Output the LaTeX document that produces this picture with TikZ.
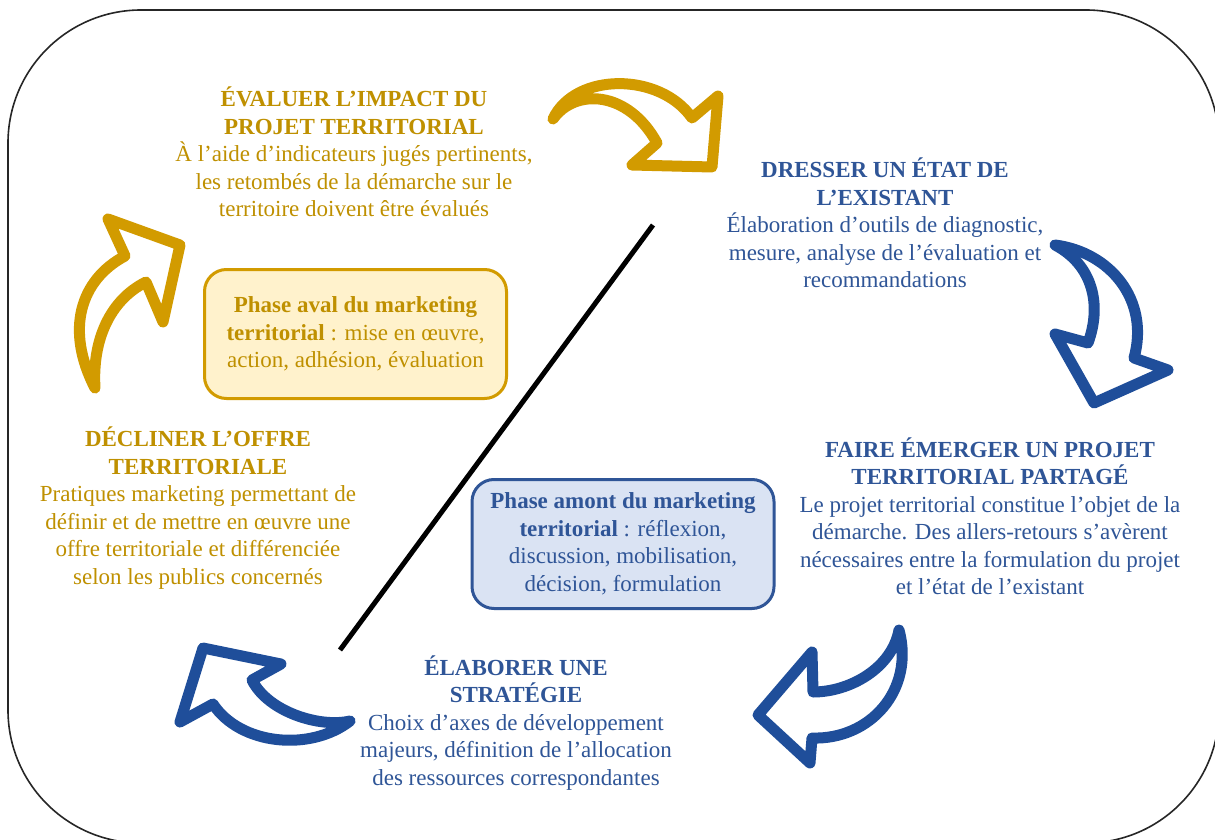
\documentclass[tikz,border=0pt]{standalone}
\usepackage{fontspec}
\setmainfont{Liberation Serif}
\definecolor{mgold}{RGB}{210,155,0}
\definecolor{mgoldtext}{RGB}{191,144,0}
\definecolor{mgoldfill}{RGB}{255,242,204}
\definecolor{mblue}{RGB}{31,78,154}
\definecolor{mbluetext}{RGB}{47,85,151}
\definecolor{mbluefill}{RGB}{218,227,243}
\begin{document}
\begin{tikzpicture}[x=0.5pt,y=-0.5pt,
  txt/.style={align=center, inner sep=0pt, font=\fontsize{11.5pt}{13.75pt}\selectfont},
  goldtxt/.style={txt, text=mgoldtext},
  bluetxt/.style={txt, text=mbluetext},
  goldarrow/.style={draw=mgold, fill=white, line width=5.5pt, line join=round},
  bluearrow/.style={draw=mblue, fill=white, line width=5.5pt, line join=round},
  phasebox/.style={txt, rounded corners=11pt, line width=1.5pt, minimum width=151pt, minimum height=64.5pt},
  goldbox/.style={phasebox, draw=mgold, fill=mgoldfill, text=mgoldtext},
  bluebox/.style={phasebox, draw=mbluetext, fill=mbluefill, text=mbluetext},
  frame/.style={draw=black!85, line width=0.8pt, rounded corners=66.5pt},
  divider/.style={draw=black, line width=2.5pt}
]
\useasboundingbox (0,0) rectangle (1215,840);
\fill[white] (0,0) rectangle (1215,840);
% outer frame
\draw[frame] (8,10) rectangle (1219,843);

% diagonal divider
\coordinate (dA) at (340,650);
\coordinate (dB) at (653,225);
\draw[divider] (dA) -- (dB);

% arrow 1 (gold, top)
\draw[goldarrow] (553,119) .. controls (575,72) and (660,72) .. (692,118)
  -- (718,96) -- (712,167) -- (632,165) -- (657,143)
  .. controls (628,90) and (575,88) .. (553,119) -- cycle;
% arrow 2 (blue, right)
\draw[bluearrow] (1055,245) .. controls (1110,252) and (1150,300) .. (1134,358)
  -- (1168,370) -- (1094,403) -- (1055,334) -- (1088,343)
  .. controls (1102,305) and (1093,265) .. (1055,245) -- cycle;
% arrow 3 (blue, bottom right)
\draw[bluearrow] (899,630) .. controls (892,668) and (850,692) .. (813,692)
  -- (812,652) -- (758,715) -- (810,763) -- (812,738)
  .. controls (870,740) and (915,690) .. (899,630) -- cycle;
% arrow 4 (blue, bottom left)
\draw[bluearrow] (350,721) .. controls (310,752) and (240,745) .. (213,704)
  -- (180,722) -- (203,648) -- (281,664) -- (252,680)
  .. controls (268,712) and (320,728) .. (350,721) -- cycle;
% arrow 5 (gold, left)
\draw[goldarrow] (95,388) .. controls (65,330) and (80,280) .. (125,256)
  -- (108,219) -- (180,245) -- (163,322) -- (146,282)
  .. controls (110,300) and (92,340) .. (95,388) -- cycle;

% phase boxes
\node[goldbox] (aval) at (355.5,334) {\textbf{Phase aval du marketing}\\\textbf{territorial} : mise en œuvre,\\action, adhésion, évaluation};
\node[bluebox] (amont) at (623,544) {\textbf{Phase amont du marketing}\\\textbf{territorial} : réflexion,\\discussion, mobilisation,\\décision, formulation};

% step texts
\node[goldtxt] (evaluer) at (354,152) {\textbf{ÉVALUER L’IMPACT DU}\\\textbf{PROJET TERRITORIAL}\\À l’aide d’indicateurs jugés pertinents,\\les retombés de la démarche sur le\\territoire doivent être évalués};
\node[bluetxt] (dresser) at (885,223) {\textbf{DRESSER UN ÉTAT DE}\\\textbf{L’EXISTANT}\\Élaboration d’outils de diagnostic,\\mesure, analyse de l’évaluation et\\recommandations};
\node[bluetxt] (faire) at (990,516) {\textbf{FAIRE ÉMERGER UN PROJET}\\\textbf{TERRITORIAL PARTAGÉ}\\Le projet territorial constitue l’objet de la\\démarche. Des allers-retours s’avèrent\\nécessaires entre la formulation du projet\\et l’état de l’existant};
\node[bluetxt] (elaborer) at (516,723) {\textbf{ÉLABORER UNE}\\\textbf{STRATÉGIE}\\Choix d’axes de développement\\majeurs, définition de l’allocation\\des ressources correspondantes};
\node[goldtxt] (decliner) at (198,508) {\textbf{DÉCLINER L’OFFRE}\\\textbf{TERRITORIALE}\\Pratiques marketing permettant de\\définir et de mettre en œuvre une\\offre territoriale et différenciée\\selon les publics concernés};
\end{tikzpicture}
\end{document}
